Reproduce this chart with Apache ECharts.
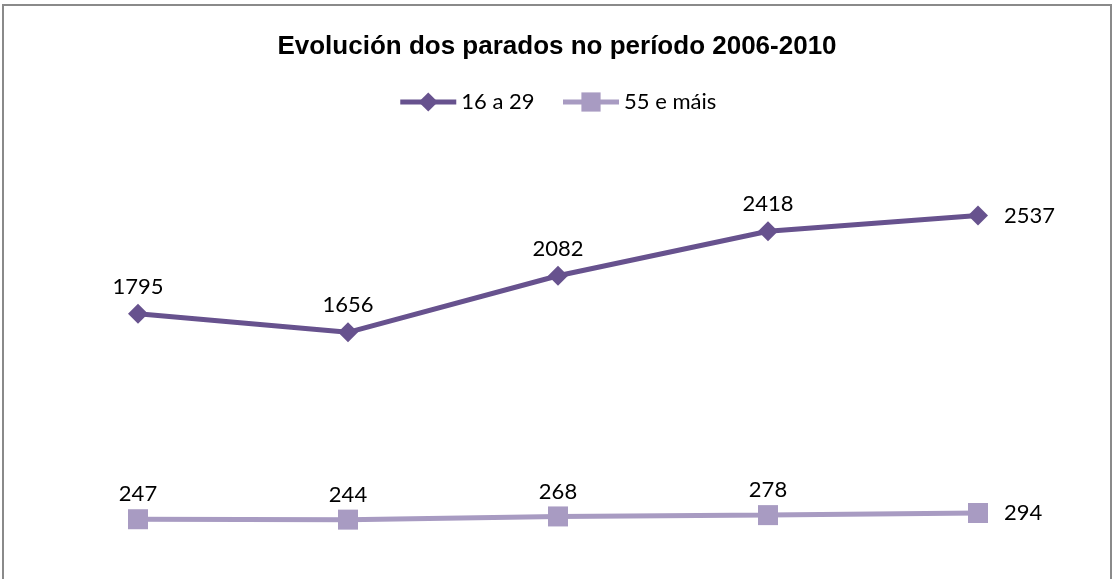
<!DOCTYPE html>
<html>
<head>
<meta charset="utf-8">
<script src="https://cdn.jsdelivr.net/npm/echarts@6/dist/echarts.min.js"></script>
<style>
  html, body { margin: 0; padding: 0; background: #fff; }
  #main { width: 1114px; height: 579px; }
</style>
</head>
<body>
<div id="main"></div>
<script>
// Datos do gráfico
var anos = ['2006', '2007', '2008', '2009', '2010'];
var mozos = [1795, 1656, 2082, 2418, 2537];
var maiores = [247, 244, 268, 278, 294];

var chartDom = document.getElementById('main');
var myChart = echarts.init(chartDom);
var option;

// a última etiqueta vai á dereita do punto
function conEtiquetas(valores) {
  return valores.map(function (v, i) {
    if (i === valores.length - 1) {
      return { value: v, label: { position: 'right', distance: 16 } };
    }
    return v;
  });
}

option = {
  backgroundColor: '#fff',
  title: {
    text: 'Evolución dos parados no período 2006-2010',
    left: 'center',
    top: 29,
    textStyle: {
      fontFamily: 'Liberation Sans',
      fontWeight: 'bold',
      fontSize: 26,
      color: '#000'
    }
  },
  legend: {
    top: 86,
    left: 'center',
    itemWidth: 56,
    itemHeight: 24,
    itemGap: 26,
    textStyle: { fontFamily: 'Lato', fontSize: 22, color: '#000' },
    lineStyle: { width: 5 },
    data: ['16 a 29', '55 e máis']
  },
  graphic: [
    {
      type: 'rect',
      shape: { x: 3, y: 5, width: 1108, height: 620 },
      style: { fill: 'none', stroke: '#8a8a8a', lineWidth: 2 },
      silent: true
    }
  ],
  grid: { left: 33, right: 31, top: 154, bottom: 27 },
  xAxis: {
    type: 'category',
    data: anos,
    boundaryGap: true,
    show: false
  },
  yAxis: {
    type: 'value',
    min: 0,
    max: 3000,
    show: false
  },
  series: [
    {
      name: '16 a 29',
      type: 'line',
      data: conEtiquetas(mozos),
      symbol: 'diamond',
      symbolSize: 20,
      color: '#67528e',
      lineStyle: { width: 5, color: '#67528e' },
      itemStyle: { color: '#67528e' },
      label: {
        show: true,
        position: 'top',
        distance: 6,
        fontFamily: 'Lato',
        fontSize: 22,
        color: '#000'
      }
    },
    {
      name: '55 e máis',
      type: 'line',
      data: conEtiquetas(maiores),
      symbol: 'rect',
      symbolSize: 20,
      color: '#a89bc2',
      lineStyle: { width: 5, color: '#a89bc2' },
      itemStyle: { color: '#a89bc2' },
      label: {
        show: true,
        position: 'top',
        distance: 4,
        fontFamily: 'Lato',
        fontSize: 22,
        color: '#000'
      }
    }
  ]
};

option && myChart.setOption(option);
</script>
</body>
</html>
